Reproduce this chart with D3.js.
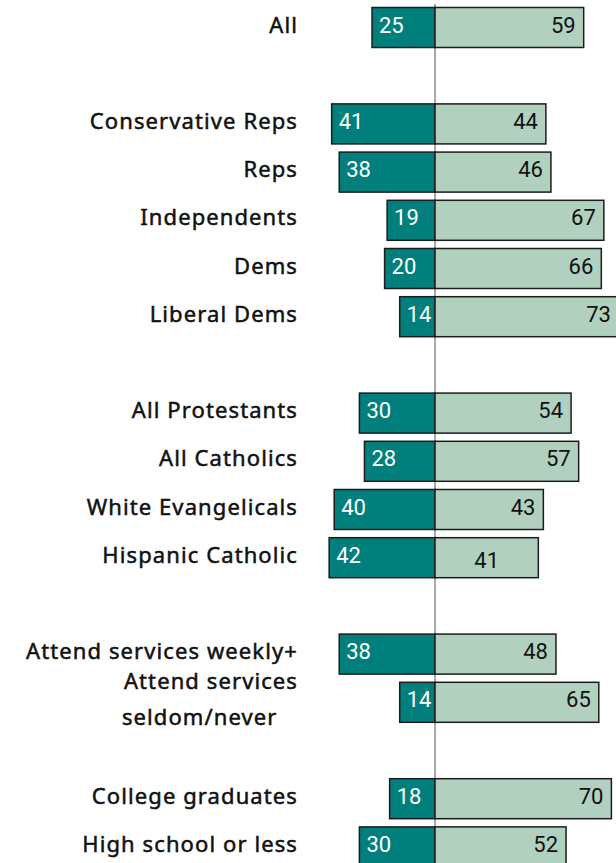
<!DOCTYPE html>
<html>
<head>
<meta charset="utf-8">
<script src="https://cdn.jsdelivr.net/npm/d3@7/dist/d3.min.js"></script>
<style>
  html, body { margin: 0; padding: 0; background: #ffffff; }
  svg { display: block; }
  .cat { font-family: "Noto Sans", sans-serif; font-size: 22px; letter-spacing: 1.1px; fill: #111; stroke: #111; stroke-width: 0.5px; white-space: pre; }
  .num { font-family: Roboto, "Noto Sans", sans-serif; font-size: 22px; }
</style>
</head>
<body>
<svg id="chart" width="616" height="863"></svg>
<script>
// Row groups (blank rows separate the groups)
const groupAll = ["All"];
const groupParty = ["Conservative Reps", "Reps", "Independents", "Dems", "Liberal Dems"];
const groupReligion = ["All Protestants", "All Catholics", "White Evangelicals", "Hispanic Catholic"];
const groupAttendance = ["Attend services weekly+", "Attend services\nseldom/never   "];
const groupEducation = ["College graduates", "High school or less"];

// Dark (left) and light (right) series, in row order
const leftValues  = [25, 41, 38, 19, 20, 14, 30, 28, 40, 42, 38, 14, 18, 30];
const rightValues = [59, 44, 46, 67, 66, 73, 54, 57, 43, 41, 48, 65, 70, 52];

const groups = [groupAll, groupParty, groupReligion, groupAttendance, groupEducation];
const categories = groups.flat();
const rows = categories.map((c, i) => ({ cat: c, left: leftValues[i], right: rightValues[i] }));

// Band domain with spacer slots between groups
const slots = [];
groups.forEach((g, gi) => {
  if (gi > 0) slots.push("__gap" + gi);
  g.forEach(c => slots.push(c));
});

const W = 616, H = 863;
const svg = d3.select("#chart");

const step = 48.2, yStart = 3.4, pad = 0.17;
const y = d3.scaleBand()
  .domain(slots)
  .range([yStart, yStart + step * slots.length])
  .paddingInner(pad)
  .paddingOuter(pad / 2);

const x = d3.scaleLinear().domain([-50, 75]).range([309, 624]);

const dark = "#007f7c";
const light = "#b2d0bf";
const edge = "#1c1c1c";

// zero line behind the bars
svg.append("line")
  .attr("x1", x(0)).attr("x2", x(0))
  .attr("y1", 4).attr("y2", H)
  .attr("stroke", "#a8a8a8").attr("stroke-width", 2);

const row = svg.selectAll("g.row").data(rows).join("g").attr("class", "row");

row.append("rect")
  .attr("x", d => x(-d.left))
  .attr("y", d => y(d.cat))
  .attr("width", d => x(0) - x(-d.left))
  .attr("height", y.bandwidth())
  .attr("fill", dark).attr("stroke", edge).attr("stroke-width", 1.5);

row.append("rect")
  .attr("x", x(0))
  .attr("y", d => y(d.cat))
  .attr("width", d => x(d.right) - x(0))
  .attr("height", y.bandwidth())
  .attr("fill", light).attr("stroke", edge).attr("stroke-width", 1.5);

const mid = d => y(d.cat) + y.bandwidth() / 2;

// value labels
row.append("text")
  .attr("class", "num")
  .attr("x", d => x(-d.left) + 7)
  .attr("y", d => mid(d) + 5)
  .attr("fill", "#ffffff")
  .text(d => d.left);

const centeredRight = new Set(["Hispanic Catholic"]);
row.append("text")
  .attr("class", "num")
  .attr("x", d => centeredRight.has(d.cat) ? (x(0) + x(d.right)) / 2 : x(d.right) - 8)
  .attr("y", d => mid(d) + (centeredRight.has(d.cat) ? 10 : 5))
  .attr("text-anchor", d => centeredRight.has(d.cat) ? "middle" : "end")
  .attr("fill", "#111111")
  .text(d => d.right);

// category labels
const labelX = 298;
row.each(function(d) {
  const lines = d.cat.split("\n");
  const lineGap = 36;
  const t = d3.select(this).append("text")
    .attr("class", "cat")
    .attr("text-anchor", "end");
  lines.forEach((ln, i) => {
    t.append("tspan")
      .attr("x", labelX)
      .attr("y", mid(d) + 5 + (i - (lines.length - 1) / 2) * lineGap)
      .text(ln);
  });
});
</script>
</body>
</html>
